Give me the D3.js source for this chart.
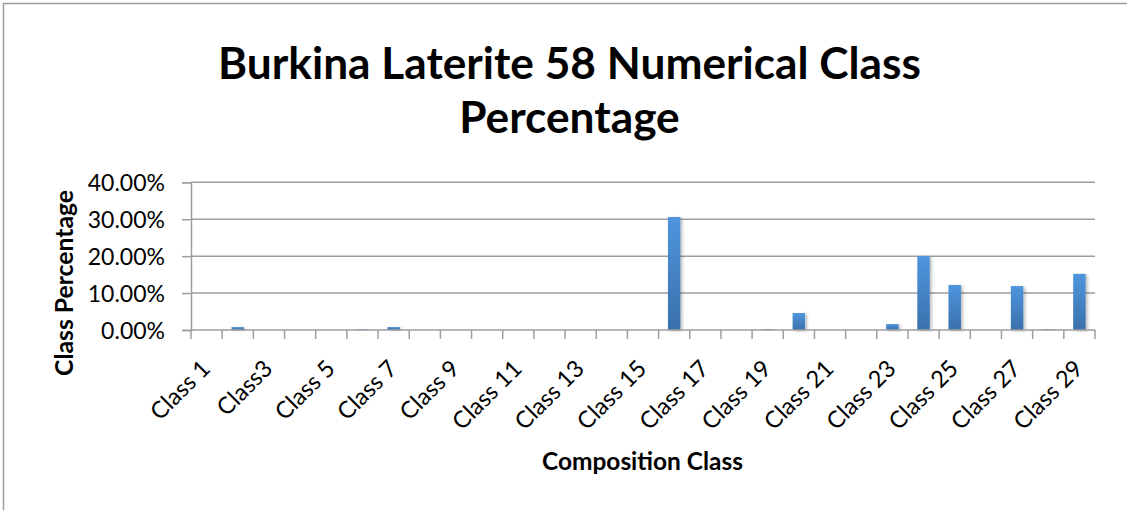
<!DOCTYPE html>
<html>
<head>
<meta charset="utf-8">
<script src="https://cdn.jsdelivr.net/npm/d3@7"></script>
<style>
  html, body { margin: 0; padding: 0; background: #fff; }
  svg { display: block; }
  text { font-family: Lato, "Open Sans", sans-serif; fill: #000; }
</style>
</head>
<body>
<svg id="chart" width="1127" height="510"></svg>
<script>
// ---- data ----
const categories = ["Class 1","Class3","Class 5","Class 7","Class 9","Class 11","Class 13","Class 15","Class 17","Class 19","Class 21","Class 23","Class 25","Class 27","Class 29"];
const classNames = d3.range(1, 30).map(i => i === 3 ? "Class3" : "Class " + i);
const values = [0, 0.008, 0, 0, 0, 0.002, 0.008, 0, 0, 0, 0, 0, 0, 0, 0, 0.306, 0, 0, 0.002, 0.046, 0, 0, 0.016, 0.200, 0.122, 0, 0.119, 0.002, 0.152];
const yTicks = [0, 0.1, 0.2, 0.3, 0.4];
const titleLines = ["Burkina Laterite 58 Numerical Class", "Percentage"];
const xTitle = "Composition Class";
const yTitle = "Class Percentage";

const svg = d3.select("#chart");
const W = 1127, H = 510;
const plot = { left: 191, right: 1095, top: 182.3, bottom: 330 };

// fit helper: scale font-size so the text reaches a target width
function fitWidth(sel, base, target) {
  sel.attr("font-size", base);
  const w = sel.node().getComputedTextLength();
  sel.attr("font-size", base * target / w);
}

// outer border
svg.append("rect").attr("x", 3.5).attr("y", 3.5).attr("width", W + 10).attr("height", H + 10)
  .attr("fill", "#fff").attr("stroke", "#9a9a9a").attr("stroke-width", 1.5);

const defs = svg.append("defs");
const grad = defs.append("linearGradient").attr("id", "barGrad")
  .attr("x1", 0).attr("y1", 0).attr("x2", 0).attr("y2", 1);
grad.append("stop").attr("offset", "0%").attr("stop-color", "#4f96de");
grad.append("stop").attr("offset", "100%").attr("stop-color", "#3a70ab");
const f = defs.append("filter").attr("id", "shadow").attr("x", "-30%").attr("y", "-10%").attr("width", "180%").attr("height", "130%");
f.append("feDropShadow").attr("dx", 2).attr("dy", 1).attr("stdDeviation", 1.5).attr("flood-color", "#000").attr("flood-opacity", 0.25);

const x = d3.scaleBand().domain(classNames).range([plot.left, plot.right]).paddingInner(0).paddingOuter(0);
const y = d3.scaleLinear().domain([0, 0.4]).range([plot.bottom, plot.top]);

// gridlines
svg.append("g").selectAll("line").data(yTicks.filter(d => d > 0)).join("line")
  .attr("x1", plot.left).attr("x2", plot.right)
  .attr("y1", d => y(d)).attr("y2", d => y(d))
  .attr("stroke", "#9e9e9e").attr("stroke-width", 1.5);

// y axis
const yAxis = svg.append("g").attr("transform", `translate(${plot.left},0)`)
  .call(d3.axisLeft(y).tickValues(yTicks).tickSize(9).tickPadding(17).tickFormat(d3.format(".2%")));
yAxis.select(".domain").attr("stroke", "#9e9e9e").attr("stroke-width", 1.5);
yAxis.selectAll(".tick line").attr("stroke", "#9e9e9e").attr("stroke-width", 1.5);
yAxis.selectAll(".tick text").attr("font-family", "Lato, sans-serif").attr("font-size", 23).attr("fill", "#000").attr("dy", "0.36em");

// bars
const bw = x.bandwidth() / 2.5;
svg.append("g").selectAll("rect").data(values.map((v, i) => ({ c: classNames[i], v }))).join("rect")
  .filter(d => d.v > 0)
  .attr("x", d => x(d.c) + x.bandwidth() / 2 - bw / 2)
  .attr("y", d => y(d.v))
  .attr("width", bw)
  .attr("height", d => y(0) - y(d.v))
  .attr("fill", "url(#barGrad)")
  .attr("filter", "url(#shadow)");

// x axis
const xAxis = svg.append("g").attr("transform", `translate(0,${plot.bottom})`);
xAxis.append("line").attr("x1", plot.left).attr("x2", plot.right).attr("y1", 0).attr("y2", 0)
  .attr("stroke", "#9e9e9e").attr("stroke-width", 1.5);
const bounds = classNames.map(c => x(c)).concat([plot.right]);
xAxis.selectAll("line.tk").data(bounds).join("line").attr("class", "tk")
  .attr("x1", d => d).attr("x2", d => d).attr("y1", 0).attr("y2", 9)
  .attr("stroke", "#9e9e9e").attr("stroke-width", 1.5);
xAxis.selectAll("text.lbl").data(categories).join("text").attr("class", "lbl")
  .attr("transform", d => `translate(${x(d) + x.bandwidth() / 2 + 5},${40}) rotate(-45)`)
  .attr("text-anchor", "end")
  .attr("font-size", 23.5)
  .text(d => d);

// axis titles
const xt = svg.append("text").attr("x", 642.5).attr("y", 470).attr("text-anchor", "middle")
  .attr("font-weight", "bold").text(xTitle);
fitWidth(xt, 19, 201);
const yt = svg.append("text").attr("transform", "translate(73,283) rotate(-90)").attr("text-anchor", "middle")
  .attr("font-weight", "bold").text(yTitle);
fitWidth(yt, 19, 186);

// title
const tY = [79, 133];
const tEls = titleLines.map((t, i) => svg.append("text").attr("x", 569.5).attr("y", tY[i]).attr("text-anchor", "middle")
  .attr("font-weight", "bold").text(t));
fitWidth(tEls[0], 40, 703);
tEls[1].attr("font-size", tEls[0].attr("font-size"));
</script>
</body>
</html>
